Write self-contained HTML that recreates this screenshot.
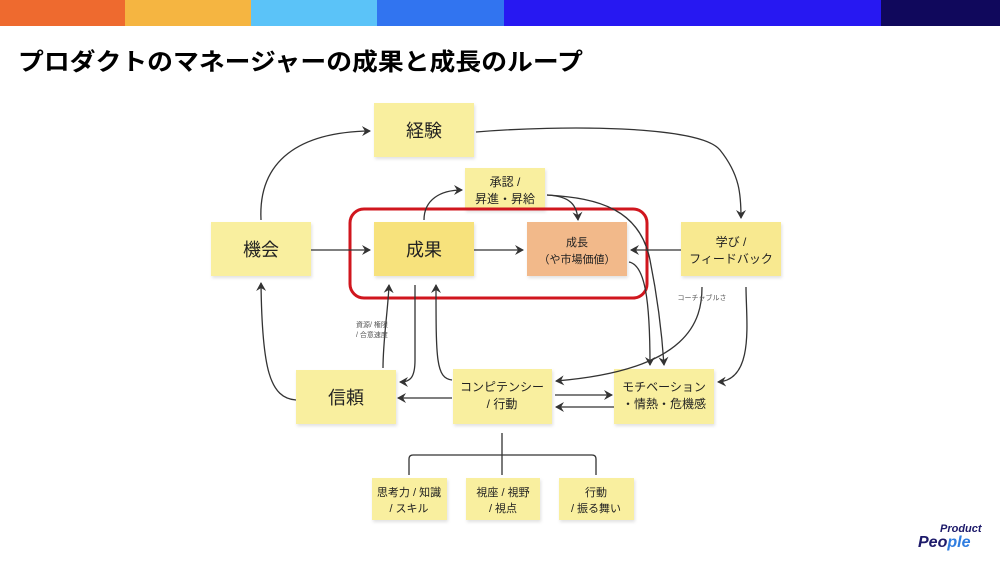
<!DOCTYPE html>
<html><head><meta charset="utf-8"><style>
body{margin:0;width:1000px;height:563px;background:#fff;overflow:hidden;font-family:"Liberation Sans","Noto Sans CJK JP",sans-serif}
svg{position:absolute;left:0;top:0}
</style></head><body>
<svg width="1000" height="563" viewBox="0 0 1000 563" font-family="Liberation Sans, Noto Sans CJK JP, sans-serif">
<defs>
<marker id="a" markerWidth="10" markerHeight="10" refX="8" refY="5" orient="auto" markerUnits="userSpaceOnUse"><path d="M0,0 L9,5 L0,10 L3,5 z" fill="#333"/></marker>
<filter id="s" x="-10%" y="-10%" width="130%" height="130%"><feDropShadow dx="1" dy="2" stdDeviation="1.5" flood-color="#000" flood-opacity="0.12"/></filter>
</defs>
<rect x="0" y="0" width="125" height="26" fill="#ee6a2f"/>
<rect x="125" y="0" width="126" height="26" fill="#f5b541"/>
<rect x="251" y="0" width="126" height="26" fill="#5bc3f8"/>
<rect x="377" y="0" width="127" height="26" fill="#3174f0"/>
<rect x="504" y="0" width="377" height="26" fill="#2718f2"/>
<rect x="881" y="0" width="119" height="26" fill="#10085c"/>
<text x="18" y="70" font-size="24" font-weight="bold" fill="#000" textLength="565" lengthAdjust="spacingAndGlyphs">プロダクトのマネージャーの成果と成長のループ</text>

<g filter="url(#s)">
<rect x="374" y="103" width="100" height="54" fill="#f9ef9f"/>
<rect x="465" y="168" width="80" height="42" fill="#f9ef9f"/>
<rect x="211" y="222" width="100" height="54" fill="#f9ef9f"/>
<rect x="374" y="222" width="100" height="54" fill="#f7e27c"/>
<rect x="527" y="222" width="100" height="54" fill="#f2b98a"/>
<rect x="681" y="222" width="100" height="54" fill="#f8e990"/>
<rect x="296" y="370" width="100" height="54" fill="#f9ef9f"/>
<rect x="453" y="369" width="99" height="55" fill="#f9ef9f"/>
<rect x="614" y="369" width="100" height="55" fill="#f9ef9f"/>
<rect x="372" y="478" width="75" height="42" fill="#f9ef9f"/>
<rect x="466" y="478" width="74" height="42" fill="#f9ef9f"/>
<rect x="559" y="478" width="75" height="42" fill="#f9ef9f"/>
</g>
<rect x="350" y="209" width="297" height="89" rx="14" fill="none" stroke="#d0161e" stroke-width="3"/>

<g fill="none" stroke="#333" stroke-width="1.3" marker-end="url(#a)">
<path d="M261,220 C258,160 300,132 370,131"/>
<path d="M476,132 C560,125 700,125 720,150 C740,175 741,195 741,218"/>
<path d="M424,220 C424,200 440,190 462,190"/>
<path d="M547,195 C570,196 577,205 578,220"/>
<path d="M547,195 C600,198 640,210 650,260 C658,300 662,335 664,365"/>
<path d="M311,250 L370,250"/>
<path d="M474,250 L523,250"/>
<path d="M681,250 L631,250"/>
<path d="M629,262 C645,265 650,300 650,365"/>
<path d="M702,287 C702,320 690,370 556,381"/>
<path d="M746,287 C746,320 755,380 718,382"/>
<path d="M296,400 C270,398 262,370 261,283"/>
<path d="M383,368 C383,340 388,310 389,285"/>
<path d="M415,285 L415,360 C415,378 410,382 400,382"/>
<path d="M452,380 C436,378 436,360 436,285"/>
<path d="M452,398 L398,398"/>
<path d="M555,395 L612,395"/>
<path d="M614,407 L556,407"/>
</g>
<path d="M502,433 V455 M409,475 V459 Q409,455 413,455 H592 Q596,455 596,459 V475 M502,455 V475" fill="none" stroke="#333" stroke-width="1.3"/>

<g fill="#222" text-anchor="middle">
<text x="424" y="137" font-size="18">経験</text>
<text x="505" y="186" font-size="12">承認 /</text>
<text x="505" y="203" font-size="12">昇進・昇給</text>
<text x="261" y="256" font-size="18">機会</text>
<text x="424" y="256" font-size="18">成果</text>
<text x="577" y="246" font-size="11">成長</text>
<text x="577" y="263" font-size="11">（や市場価値）</text>
<text x="731" y="246" font-size="12">学び /</text>
<text x="731" y="263" font-size="12">フィードバック</text>
<text x="346" y="404" font-size="18">信頼</text>
<text x="502" y="391" font-size="12">コンピテンシー</text>
<text x="502" y="408" font-size="12">/ 行動</text>
<text x="664" y="391" font-size="12">モチベーション</text>
<text x="664" y="408" font-size="12">・情熱・危機感</text>
<text x="409" y="496" font-size="11">思考力 / 知識</text>
<text x="409" y="512" font-size="11">/ スキル</text>
<text x="503" y="496" font-size="11">視座 / 視野</text>
<text x="503" y="512" font-size="11">/ 視点</text>
<text x="596" y="496" font-size="11">行動</text>
<text x="596" y="512" font-size="11">/ 振る舞い</text>
<text x="372" y="327" font-size="7" fill="#555">資源/ 権限</text>
<text x="372" y="337" font-size="7" fill="#555">/ 合意速度</text>
<text x="702" y="300" font-size="7" fill="#555">コーチャブルさ</text>
</g>
<text x="940" y="532" font-size="11" font-weight="bold" fill="#1d1a6a" font-style="italic">Product</text>
<text x="918" y="547" font-size="16" font-weight="bold" fill="#1d1a6a" font-style="italic">Peo<tspan fill="#2f7de0">ple</tspan></text>
</svg>
</body></html>
